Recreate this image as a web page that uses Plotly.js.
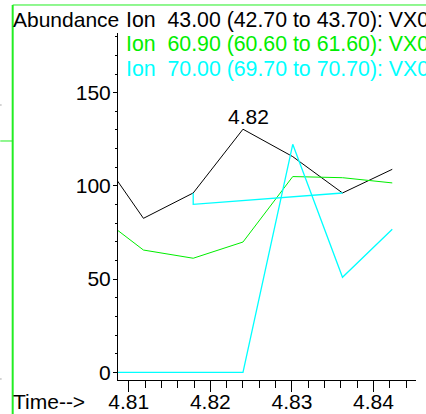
<!DOCTYPE html>
<html>
<head>
<meta charset="utf-8">
<script src="https://cdn.plot.ly/plotly-3.0.1.min.js"></script>
<style>html,body{margin:0;padding:0;background:#fff;overflow:hidden}#chart{width:426px;height:414px}</style>
</head>
<body>
<div id="chart"></div>
<script>
// Retention times (min)
var times = [4.8057, 4.8118, 4.8179, 4.8240, 4.8301, 4.8362, 4.8423];
// Ion 43.00 abundance
var ion43 = [121, 82.6, 96.2, 130.4, 115.7, 96.2, 108.9];
// Ion 60.90 abundance
var ion609 = [86, 65.6, 61.2, 69.9, 105.0, 104.4, 101.6];
// Ion 70.00 abundance
var ion70 = [0, 0, 0, 0, 122.3, 51.0, 76.7];
// Ion 70.00 integration baseline segment
var baseTimes = [4.8179, 4.8179, 4.8362];
var baseVals = [96.2, 90.1, 96.2];
// Labels
var legendLines = [
  {text: "Ion\u00a0\u00a043.00 (42.70 to 43.70): VX0", color: "#000000"},
  {text: "Ion\u00a0\u00a060.90 (60.60 to 61.60): VX0", color: "#00ee00"},
  {text: "Ion\u00a0\u00a070.00 (69.70 to 70.70): VX0", color: "#00ffff"}
];
var peakLabel = "4.82";

var font = "Liberation Sans, Arial, sans-serif";
var fs = 21;

var traces = [
  {x: times, y: ion43, mode: "lines", line: {color: "#000000", width: 1}, hoverinfo: "skip"},
  {x: times, y: ion609, mode: "lines", line: {color: "#00ee00", width: 1}, hoverinfo: "skip"},
  {x: times, y: ion70, mode: "lines", line: {color: "#00ffff", width: 1.3}, hoverinfo: "skip"},
  {x: baseTimes, y: baseVals, mode: "lines", line: {color: "#00ffff", width: 1.3}, hoverinfo: "skip"}
];

var peakIdx = ion43.indexOf(Math.max.apply(null, ion43));

var annotations = [
  {xref: "paper", yref: "paper", x: -0.36, y: 1.0375, xanchor: "left", yanchor: "middle",
   text: "Abundance", showarrow: false, font: {family: font, size: fs, color: "#000"}},
  {xref: "paper", yref: "paper", x: -0.358, y: -0.063, xanchor: "left", yanchor: "middle",
   text: "Time-->", showarrow: false, font: {family: font, size: fs, color: "#000"}},
  {xref: "x", yref: "y", x: times[peakIdx], y: ion43[peakIdx], xanchor: "center", yanchor: "bottom",
   xshift: 6, yshift: -1, text: peakLabel, showarrow: false, font: {family: font, size: fs, color: "#000"}}
];
var ys = [1.0375, 0.9669, 0.8963];
legendLines.forEach(function (l, i) {
  annotations.push({xref: "paper", yref: "paper", x: 0.021, y: ys[i], xanchor: "left", yanchor: "middle",
    text: l.text, showarrow: false, font: {family: font, size: 21.3, color: l.color}});
});

var shapes = [
  {type: "line", xref: "paper", yref: "paper", x0: -0.3534, x1: -0.3534, y0: 1.0807, y1: -0.1, line: {color: "#22ee22", width: 2}},
  {type: "line", xref: "paper", yref: "paper", x0: -0.3534, x1: 1.04, y0: 1.0807, y1: 1.0807, line: {color: "#22ee22", width: 1}},
  {type: "line", xref: "paper", yref: "paper", x0: -0.395, x1: -0.3534, y0: 0.6888, y1: 0.6888, line: {color: "#22ee22", width: 1}},
  {type: "line", xref: "paper", yref: "paper", x0: -0.395, x1: -0.391, y0: 0.7925, y1: 0.7925, line: {color: "#888", width: 1}},
  {type: "line", xref: "paper", yref: "paper", x0: -0.395, x1: -0.391, y0: 0.0029, y1: 0.0029, line: {color: "#888", width: 1}}
];

var layout = {
  width: 426, height: 414,
  margin: {l: 117.5, r: 10, t: 33, b: 34, pad: 0},
  paper_bgcolor: "#fff", plot_bgcolor: "#fff",
  showlegend: false,
  font: {family: font, size: fs, color: "#000"},
  xaxis: {
    range: [4.80868, 4.84521], showgrid: false, zeroline: false,
    showline: true, linecolor: "#000", linewidth: 1,
    ticks: "outside", ticklen: 11, tickwidth: 1, tickcolor: "#000",
    tick0: 4.81, dtick: 0.01, tickformat: ".2f",
    ticklabelstandoff: -8,
    tickfont: {family: font, size: fs, color: "#000"},
    minor: {dtick: 0.002, tick0: 4.81, ticks: "outside", ticklen: 7, tickwidth: 1, tickcolor: "#000", showgrid: false}
  },
  yaxis: {
    range: [-4.1, 182], showgrid: false, zeroline: false,
    showline: true, linecolor: "#000", linewidth: 1,
    ticks: "outside", ticklen: 4, tickwidth: 1, tickcolor: "#000",
    tick0: 0, dtick: 50,
    ticklabelstandoff: -2,
    tickfont: {family: font, size: fs, color: "#000"},
    minor: {dtick: 10, tick0: 0, ticks: "outside", ticklen: 2, tickwidth: 1, tickcolor: "#000", showgrid: false}
  },
  annotations: annotations,
  shapes: shapes
};

Plotly.newPlot("chart", traces, layout, {staticPlot: true, displayModeBar: false});
</script>
</body>
</html>
